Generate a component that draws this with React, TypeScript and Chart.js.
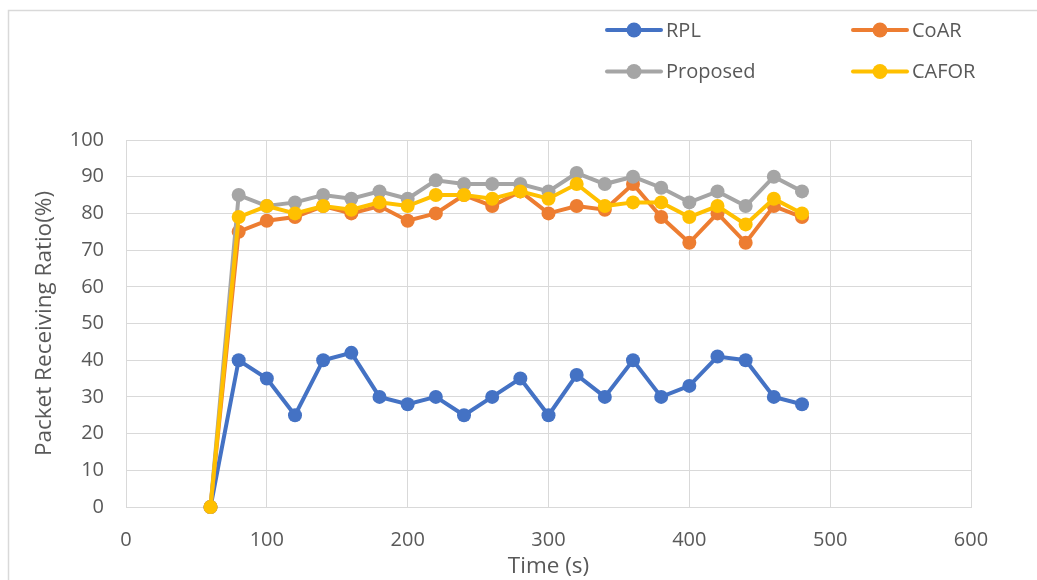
import React, { useEffect, useRef } from "react";
import { Chart, registerables } from "chart.js";

Chart.register(...registerables);

const times = [60, 80, 100, 120, 140, 160, 180, 200, 220, 240, 260, 280, 300, 320, 340, 360, 380, 400, 420, 440, 460, 480];
const rpl = [0, 40, 35, 25, 40, 42, 30, 28, 30, 25, 30, 35, 25, 36, 30, 40, 30, 33, 41, 40, 30, 28];
const coar = [0, 75, 78, 79, 82, 80, 82, 78, 80, 85, 82, 86, 80, 82, 81, 88, 79, 72, 80, 72, 82, 79];
const proposed = [0, 85, 82, 83, 85, 84, 86, 84, 89, 88, 88, 88, 86, 91, 88, 90, 87, 83, 86, 82, 90, 86];
const cafor = [0, 79, 82, 80, 82, 81, 83, 82, 85, 85, 84, 86, 84, 88, 82, 83, 83, 79, 82, 77, 84, 80];

const seriesNames = ["RPL", "CoAR", "Proposed", "CAFOR"];
const seriesColors = ["#4472C4", "#ED7D31", "#A5A5A5", "#FFC000"];
const xRange = [0, 600, 100];
const yRange = [0, 100, 10];
const xTitle = "Time (s)";
const yTitle = "Packet Receiving Ratio(%)";

const FONT = "'Open Sans', sans-serif";
const TEXT = "#595959";
const GRID = "#d9d9d9";

const legendPos = [
  [607, 30],
  [853, 30],
  [607, 71.5],
  [853, 71.5],
];

const framePlugin = {
  id: "frame",
  beforeDraw(chart: any) {
    const ctx = chart.ctx;
    ctx.save();
    ctx.fillStyle = "#ffffff";
    ctx.fillRect(0, 0, chart.width, chart.height);
    ctx.strokeStyle = GRID;
    ctx.lineWidth = 1.5;
    ctx.strokeRect(8.5, 10.5, chart.width + 50, chart.height + 50);
    ctx.restore();
  },
  afterDraw(chart: any) {
    const ctx = chart.ctx;
    ctx.save();
    seriesNames.forEach((name, i) => {
      const [x, y] = legendPos[i];
      ctx.strokeStyle = seriesColors[i];
      ctx.lineWidth = 4;
      ctx.lineCap = "round";
      ctx.beginPath();
      ctx.moveTo(x, y);
      ctx.lineTo(x + 54, y);
      ctx.stroke();
      ctx.fillStyle = seriesColors[i];
      ctx.beginPath();
      ctx.arc(x + 27, y, 7.5, 0, Math.PI * 2);
      ctx.fill();
      ctx.fillStyle = TEXT;
      ctx.font = `20px ${FONT}`;
      ctx.textBaseline = "middle";
      ctx.textAlign = "left";
      ctx.fillText(name, x + 59, y + 1);
    });
    ctx.restore();
  },
};

export default function App() {
  const ref = useRef<HTMLCanvasElement | null>(null);

  useEffect(() => {
    if (!ref.current) return;
    const all = [rpl, coar, proposed, cafor];
    const chart = new Chart(ref.current, {
      type: "line",
      data: {
        datasets: all.map((vals, i) => ({
          label: seriesNames[i],
          data: times.map((t, j) => ({ x: t, y: vals[j] })),
          borderColor: seriesColors[i],
          backgroundColor: seriesColors[i],
          pointBackgroundColor: seriesColors[i],
          pointBorderColor: seriesColors[i],
          pointRadius: 7,
          pointBorderWidth: 0,
          borderWidth: 4,
          tension: 0,
          clip: false as any,
          order: 4 - i,
        })),
      },
      options: {
        animation: false,
        responsive: true,
        maintainAspectRatio: false,
        layout: { padding: { top: 140, right: 66, left: 0, bottom: 0 } },
        plugins: {
          legend: { display: false },
          tooltip: { enabled: false },
        },
        scales: {
          x: {
            type: "linear",
            min: xRange[0],
            max: xRange[1],
            ticks: {
              stepSize: xRange[2],
              color: TEXT,
              font: { family: FONT, size: 20 },
              padding: 21,
              maxRotation: 0,
            },
            grid: { color: GRID, drawTicks: false },
            border: { color: GRID },
            title: {
              display: true,
              text: xTitle,
              color: TEXT,
              font: { family: FONT, size: 22.5 },
              padding: { top: 0, bottom: 0 },
            },
            afterFit: (s: any) => {
              s.height = 73;
            },
          },
          y: {
            min: yRange[0],
            max: yRange[1],
            ticks: {
              stepSize: yRange[2],
              color: TEXT,
              font: { family: FONT, size: 20 },
              padding: 22,
            },
            grid: { color: GRID, drawTicks: false },
            border: { color: GRID },
            title: {
              display: true,
              text: yTitle,
              color: TEXT,
              font: { family: FONT, size: 22.5 },
              padding: { top: 31, bottom: 0 },
            },
            afterFit: (s: any) => {
              s.width = 126;
            },
          },
        },
      },
      plugins: [framePlugin],
    });
    return () => chart.destroy();
  }, []);

  return (
    <div style={{ position: "absolute", left: 0, top: 0, width: 1037, height: 580 }}>
      <canvas ref={ref} />
    </div>
  );
}
